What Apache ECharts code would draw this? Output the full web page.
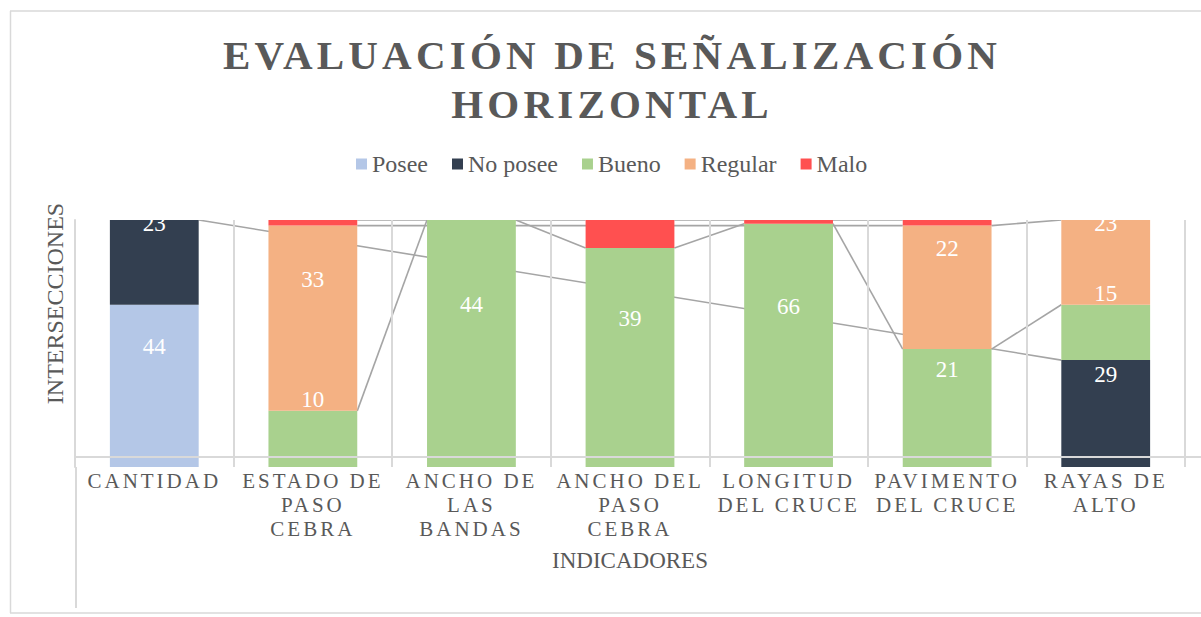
<!DOCTYPE html>
<html>
<head>
<meta charset="utf-8">
<script src="https://cdn.jsdelivr.net/npm/echarts@6/dist/echarts.min.js"></script>
<style>
  html, body { margin: 0; padding: 0; background: #ffffff; }
  #chart { width: 1201px; height: 617px; }
  /* spaced capitals for the heading and the category names */
  #chart text[style*="Times New Roman"], #chart text[font-family*="Times New Roman"] { letter-spacing: 4.2px; }
  #chart text[style*="Nimbus"], #chart text[font-family*="Nimbus"] { letter-spacing: 3px; }
</style>
</head>
<body>
<div id="chart"></div>
<script>
// Indicators (x axis) and the count of intersections per rating
const categories = [
  'CANTIDAD',
  'ESTADO DE\nPASO\nCEBRA',
  'ANCHO DE\nLAS\nBANDAS',
  'ANCHO DEL\nPASO\nCEBRA',
  'LONGITUD\nDEL CRUCE',
  'PAVIMENTO\nDEL CRUCE',
  'RAYAS DE\nALTO'
];
const posee   = [44, null, null, null, null, null, null];
const noPosee = [23, null, null, null, null, null, 29];
const bueno   = [null, 10, 44, 39, 66, 21, 15];
const regular = [null, 33, null, null, null, 22, 23];
const malo    = [null, 1, null, 5, 1, 1, null];

const seriesNames = ['Posee', 'No posee', 'Bueno', 'Regular', 'Malo'];
const seriesValues = [posee, noPosee, bueno, regular, malo];
const seriesColors = ['#b4c7e7', '#333f50', '#a9d18e', '#f4b183', '#ff5050'];

const TEXT = '#595959';
const GRID_LINE = '#d9d9d9';
const SERIF = "'Liberation Serif', serif";
const SERIF_TITLE = "'Liberation Serif', 'Times New Roman', serif";
const SERIF_CAT = "'Liberation Serif', 'Nimbus Roman', serif";
const BAR_RATIO = 0.56;
const GRID = { left: 75, right: 16, top: 220, bottom: 150 };

// each column is shown as 100 % of its own total
const totals = categories.map((_, i) =>
  seriesValues.reduce((s, arr) => s + (arr[i] == null ? 0 : arr[i]), 0));
const percent = arr => arr.map((v, i) => v == null ? null : v / totals[i] * 100);

// series lines: join the top of a series between consecutive columns holding it
function connectors(k) {
  const out = [];
  let prev = null;
  for (let i = 0; i < categories.length; i++) {
    if (seriesValues[k][i] == null) continue;
    let top = 0;
    for (let j = 0; j <= k; j++) top += seriesValues[j][i] == null ? 0 : seriesValues[j][i];
    const pct = top / totals[i] * 100;
    if (prev) out.push([prev[0], prev[1], i, pct]);
    prev = [i, pct];
  }
  return out;
}
const lineData = [];
seriesNames.forEach((_, k) => connectors(k).forEach(d => lineData.push(d)));

const barSeries = seriesNames.map((name, k) => ({
  name,
  type: 'bar',
  stack: 'total',
  barWidth: (BAR_RATIO * 100) + '%',
  z: 2,
  itemStyle: { color: seriesColors[k] },
  label: {
    show: name !== 'Malo',
    position: 'inside',
    offset: [0, -39],
    color: '#ffffff',
    fontSize: 23,
    fontFamily: SERIF,
    formatter: p => seriesValues[k][p.dataIndex]
  },
  emphasis: { disabled: true },
  data: percent(seriesValues[k])
}));

const chart = echarts.init(document.getElementById('chart'), null, { renderer: 'svg' });
chart.setOption({
  animation: false,
  backgroundColor: '#ffffff',
  title: {
    text: 'EVALUACIÓN DE SEÑALIZACIÓN\nHORIZONTAL',
    left: 612,
    textAlign: 'center',
    top: 30,
    padding: 0,
    textStyle: {
      fontFamily: SERIF_TITLE,
      fontWeight: 'bold',
      fontSize: 41,
      lineHeight: 49,
      color: TEXT
    }
  },
  legend: {
    data: seriesNames,
    left: 356,
    top: 152,
    padding: 0,
    icon: 'rect',
    itemWidth: 11,
    itemHeight: 11,
    itemGap: 24,
    selectedMode: false,
    textStyle: { fontFamily: SERIF, fontSize: 24, color: TEXT }
  },
  grid: Object.assign({ containLabel: false, outerBoundsMode: 'none' }, GRID),
  xAxis: {
    type: 'category',
    data: categories,
    offset: -10,
    z: 5,
    axisLine: { show: true, lineStyle: { color: GRID_LINE, width: 2 } },
    axisTick: { show: false },
    splitLine: { show: true, lineStyle: { color: GRID_LINE, width: 2 } },
    axisLabel: {
      interval: 0,
      hideOverlap: false,
      margin: 12,
      color: TEXT,
      fontSize: 21,
      lineHeight: 24,
      fontFamily: SERIF_CAT
    },
    name: 'INDICADORES',
    nameLocation: 'middle',
    nameGap: 92,
    nameTextStyle: { fontFamily: SERIF, fontSize: 23, color: TEXT }
  },
  yAxis: {
    type: 'value',
    min: 0,
    max: 100,
    axisLabel: { show: false },
    axisTick: { show: false },
    splitLine: { show: false },
    axisLine: { show: true, lineStyle: { color: GRID_LINE, width: 2 } },
    name: 'INTERSECCIONES',
    nameLocation: 'middle',
    nameRotate: 90,
    nameGap: 8,
    nameTextStyle: { fontFamily: SERIF, fontSize: 24, color: TEXT, padding: [0, 0, 0, 80] }
  },
  series: [
    {
      name: 'series-lines',
      type: 'custom',
      z: 1,
      silent: true,
      encode: { x: [0, 2], y: [1, 3] },
      renderItem: (params, api) => {
        const a = api.coord([api.value(0), api.value(1)]);
        const b = api.coord([api.value(2), api.value(3)]);
        const half = api.size([1, 0])[0] * BAR_RATIO / 2;
        return {
          type: 'line',
          shape: { x1: a[0] + half, y1: a[1], x2: b[0] - half, y2: b[1] },
          style: { stroke: '#a5a5a5', lineWidth: 1.6 }
        };
      },
      data: lineData
    }
  ].concat(barSeries),
  graphic: [
    // labels above the plot top are hidden by the plot edge
    { type: 'rect', z: 100, silent: true, left: GRID.left + 1, top: GRID.top - 28,
      shape: { width: 1201 - GRID.left, height: 28 }, style: { fill: '#ffffff' } },
    // chart frame
    { type: 'line', z: 100, silent: true, shape: { x1: 10.5, y1: 11, x2: 10.5, y2: 613 },
      style: { stroke: GRID_LINE, lineWidth: 1.5 } },
    { type: 'line', z: 100, silent: true, shape: { x1: 10, y1: 11, x2: 1201, y2: 11 },
      style: { stroke: GRID_LINE, lineWidth: 1.5 } },
    { type: 'line', z: 100, silent: true, shape: { x1: 10, y1: 613, x2: 1201, y2: 613 },
      style: { stroke: GRID_LINE, lineWidth: 1.5 } },
    { type: 'line', z: 100, silent: true, shape: { x1: GRID.left + 1, y1: 617 - GRID.bottom, x2: GRID.left + 1, y2: 608 },
      style: { stroke: GRID_LINE, lineWidth: 2 } },
    { type: 'line', z: 100, silent: true, shape: { x1: 1201 - GRID.right, y1: 457, x2: 1201, y2: 457 },
      style: { stroke: GRID_LINE, lineWidth: 2 } }
  ]
});
</script>
</body>
</html>
